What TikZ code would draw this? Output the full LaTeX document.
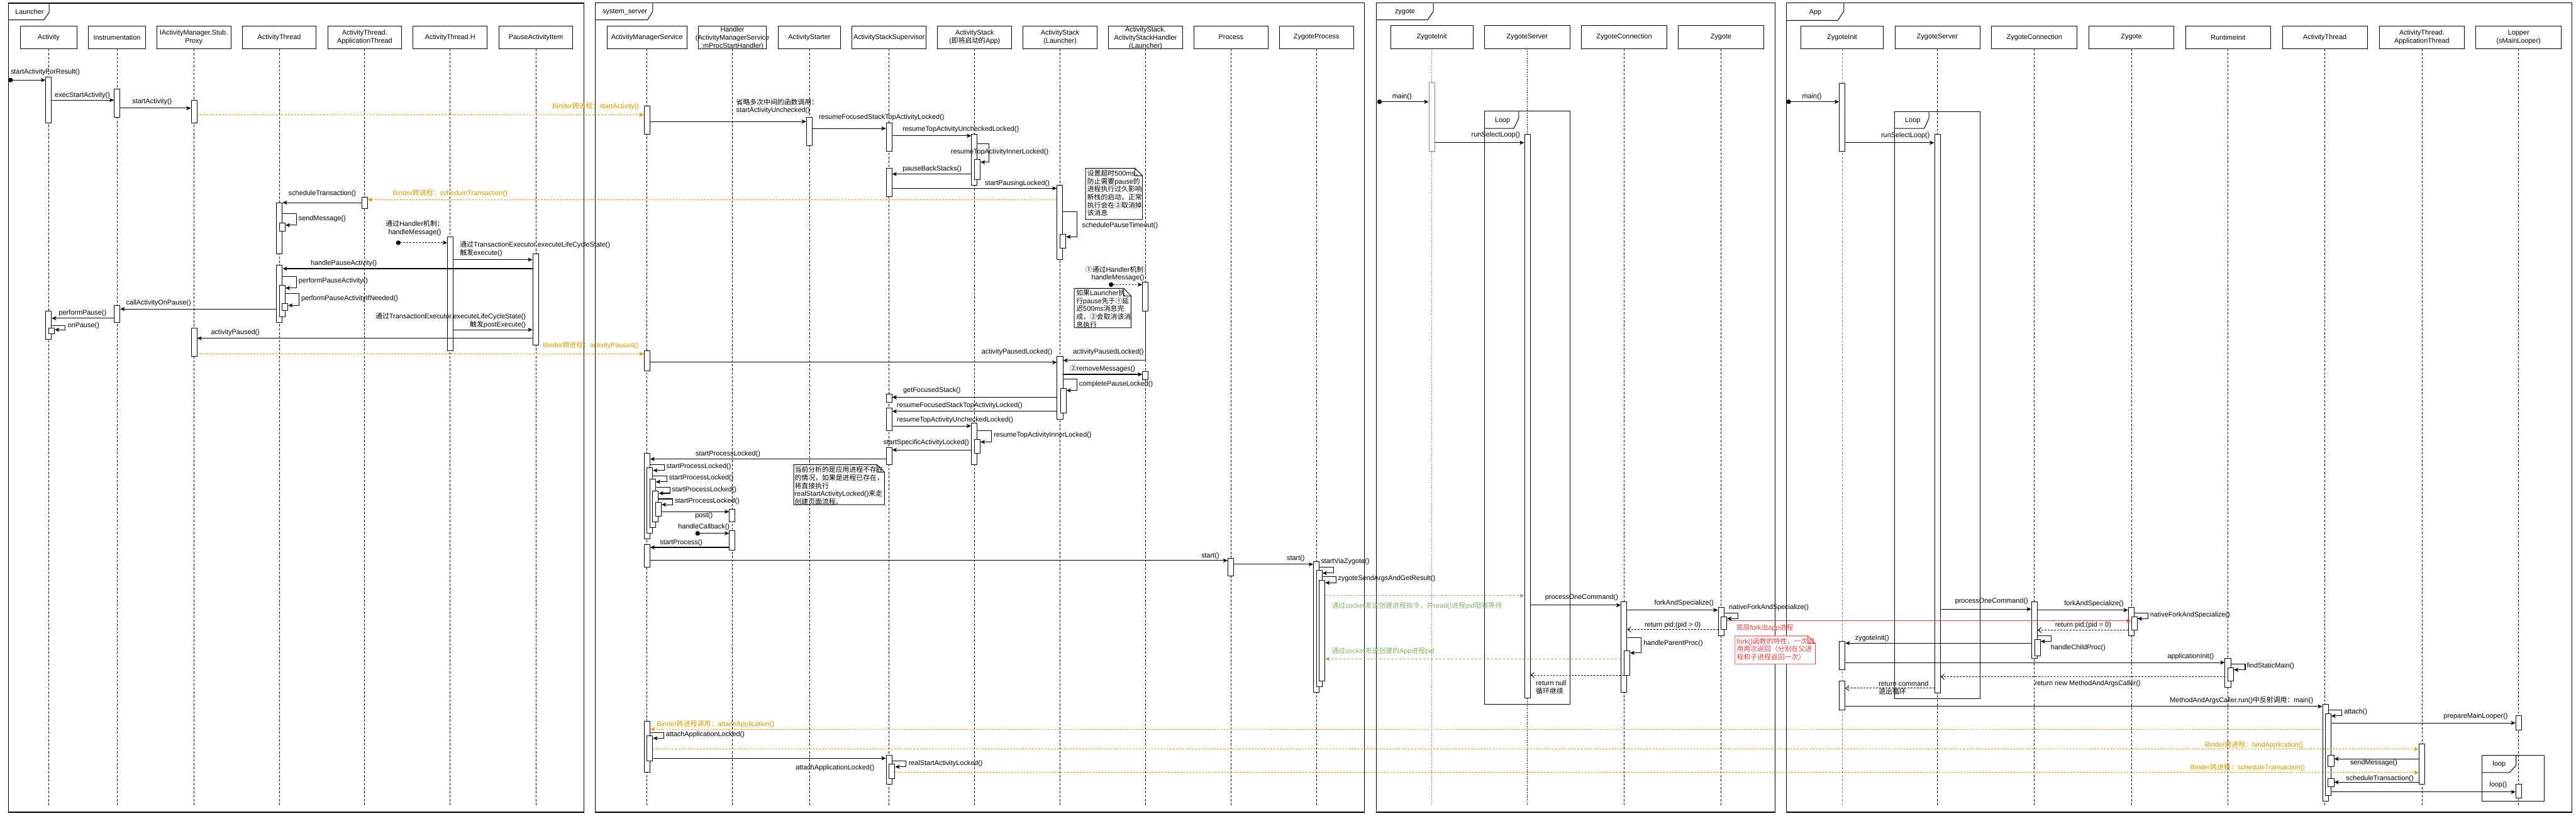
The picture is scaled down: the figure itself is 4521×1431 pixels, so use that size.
\documentclass[tikz,border=0pt]{standalone}
\usepackage{fontspec}
\setmainfont{Liberation Sans}
\newfontfamily\cjk{Noto Sans CJK SC}
\usetikzlibrary{arrows.meta,fit}
\definecolor{bOrange}{RGB}{215,155,0}
\definecolor{bGreen}{RGB}{130,179,102}
\definecolor{bRed}{RGB}{236,64,60}
\newcommand\zh[1]{{\cjk #1}}
\newcommand\mkact[5][]{\node[actb,#1,fit={(#3-5,#4) (#3+5,#5)}] (#2) {};}
\newcommand\notebox[5][black]{\draw[draw=#1,line width=1pt,fill=white] (#2,#3) -- (#4-13,#3) -- (#4,#3+13) -- (#4,#5) -- (#2,#5) -- cycle; \draw[draw=#1,line width=0.8pt] (#4-13,#3) -- (#4-13,#3+13) -- (#4,#3+13);}
\tikzset{
  frm/.style={draw=black,line width=1.3pt},
  tabl/.style={line width=1.1pt},
  hd/.style={draw,fill=white,line width=1pt,minimum height=40pt,inner sep=0pt,align=center},
  life/.style={line width=0.8pt,dash pattern=on 4pt off 3pt},
  lifeg/.style={gray,line width=1.6pt,dash pattern=on 2pt off 2pt},
  lifed/.style={line width=1.2pt,dash pattern=on 2pt off 2pt},
  lifeg2/.style={gray,line width=1pt,dash pattern=on 4pt off 3pt},
  actb/.style={draw,fill=white,line width=1pt,inner sep=0pt},
  msg/.style={line width=1.2pt,arrows={-Stealth[length=8pt,width=7pt,inset=2pt]}},
  ret/.style={line width=1pt,dash pattern=on 3pt off 2.5pt,arrows={-Straight Barb[length=6pt,width=9pt]}},
  found/.style={line width=1.2pt,arrows={Circle[length=8pt]-Stealth[length=8pt,width=7pt,inset=2pt]}},
  founddash/.style={found,dash pattern=on 3pt off 2.5pt},
  binder/.style={draw=bOrange,line width=1.2pt,dash pattern=on 3pt off 2.5pt,arrows={-Stealth[length=8pt,width=7pt,inset=2pt]}},
  sock/.style={draw=bGreen,line width=1pt,dash pattern=on 4pt off 3pt,arrows={-Stealth[length=8pt,width=7pt,inset=2pt]}},
  redmsg/.style={draw=bRed,line width=1pt,arrows={-Stealth[length=8pt,width=7pt,inset=2pt]}},
  lbl/.style={inner sep=0pt},
  orl/.style={lbl,text=bOrange},
  grl/.style={lbl,text=bGreen},
  rdl/.style={lbl,text=bRed},
}
\begin{document}
\begin{tikzpicture}[x=1pt,y=-1pt,font=\fontsize{12}{14}\selectfont]
\fill[white] (0,0) rectangle (4521,1431);
\useasboundingbox (0,0) rectangle (4521,1431);

% ===== frames
\draw[frm] (14.6,5.5) rectangle (1024.6,1425);
\draw[tabl] (14.6,35) -- (77,35) -- (86.2,21.7) -- (86.2,5.5);
\node[lbl] (fL) at (51.8,21) {Launcher};
\draw[frm] (1044.6,5) rectangle (2394.8,1425);
\draw[tabl] (1044.6,35) -- (1136.4,35) -- (1145.6,19.6) -- (1145.6,5);
\node[lbl] (fS) at (1096.7,21.5) {system\_server};
\draw[frm] (2415.6,5.4) rectangle (3115,1425);
\draw[tabl] (2415.6,34.8) -- (2505.7,34.8) -- (2515.5,20) -- (2515.5,5.4);
\node[lbl] (fZ) at (2465.8,21.5) {zygote};
\draw[frm] (3135.2,5) rectangle (4514,1425);
\draw[tabl] (3135.2,35.7) -- (3225.4,35.7) -- (3236,19.6) -- (3236,5);
\node[lbl] (fA) at (3186,21.5) {App};

% loop frames
\draw[frm,line width=1.1pt] (2605.3,195) rectangle (2755.3,1235.6);
\draw[tabl] (2605.3,225.4) -- (2656.6,225.4) -- (2665.5,207.6) -- (2665.5,195);
\node[lbl] (lpZ) at (2637,211.6) {Loop};
\draw[frm,line width=1.1pt] (3325.5,195.4) rectangle (3474.8,1225.3);
\draw[tabl] (3325.5,225.4) -- (3377,225.4) -- (3385.4,207) -- (3385.4,195.4);
\node[lbl] (lpA) at (3356.8,211.5) {Loop};
\draw[frm,line width=1.1pt] (4355.9,1325.3) rectangle (4465,1405.3);
\draw[tabl] (4355.9,1355.3) -- (4404.2,1355.3) -- (4415.8,1343) -- (4415.8,1325.3);
\node[lbl] (lpB) at (4386.3,1341) {loop};

% ===== headers
\node[hd,minimum width=100pt] (hA) at (85.3,65.4) {Activity};
\node[hd,minimum width=100pt] (hI) at (205.3,65.4) {Instrumentation};
\node[hd,minimum width=130pt] (hP) at (340.2,65.4) {IActivityManager.Stub.\\Proxy};
\node[hd,minimum width=130pt] (hAT) at (490.1,65.4) {ActivityThread};
\node[hd,minimum width=130pt] (hAPT) at (640,65.4) {ActivityThread.\\ApplicationThread};
\node[hd,minimum width=130pt] (hH) at (790,65.4) {ActivityThread.H};
\node[hd,minimum width=130pt] (hPAI) at (940.4,65.4) {PauseActivityItem};

\node[hd,minimum width=140pt] (sh1) at (1135.3,65.4) {ActivityManagerService};
\node[hd,minimum width=120pt] (sh2) at (1285.4,65.4) {};
\node[lbl,align=center] (sh2t) at (1285.4,66.8) {Handler\\(ActivityManagerService\\:mProcStartHandler)};
\node[hd,minimum width=110pt] (sh3) at (1420.4,65.4) {ActivityStarter};
\node[hd,minimum width=130pt] (sh4) at (1560.5,65.4) {ActivityStackSupervisor};
\node[hd,minimum width=130pt] (sh5) at (1710.6,65.4) {ActivityStack\\(\zh{即将启动的}App)};
\node[hd,minimum width=130pt] (sh6) at (1860.5,65.4) {ActivityStack\\(Launcher)};
\node[hd,minimum width=130pt] (sh7) at (2010.4,65.4) {};
\node[lbl,align=center] (sh7t) at (2010.4,66.8) {ActivityStack.\\ActivityStackHandler\\(Launcher)};
\node[hd,minimum width=130pt] (sh8) at (2160.4,65.4) {Process};
\node[hd,minimum width=130pt] (sh9) at (2310.4,65.4) {ZygoteProcess};

\node[hd,minimum width=145pt] (zh1) at (2512.9,65.2) {ZygoteInit};
\node[hd,minimum width=150pt] (zh2) at (2680.3,65.2) {ZygoteServer};
\node[hd,minimum width=150pt] (zh3) at (2850.4,65.2) {ZygoteConnection};
\node[hd,minimum width=150pt] (zh4) at (3020.4,65.2) {Zygote};

\node[hd,minimum width=144pt] (ph1) at (3233,65.4) {ZygoteInit};
\node[hd,minimum width=149pt] (ph2) at (3400.1,65.4) {ZygoteServer};
\node[hd,minimum width=150pt] (ph3) at (3570.4,65.4) {ZygoteConnection};
\node[hd,minimum width=149pt] (ph4) at (3740.7,65.4) {Zygote};
\node[hd,minimum width=149pt] (ph5) at (3910.4,65.4) {RuntimeInit};
\node[hd,minimum width=149pt] (ph6) at (4080.2,65.4) {ActivityThread};
\node[hd,minimum width=150pt] (ph7) at (4250.5,65.4) {ActivityThread.\\ApplicationThread};
\node[hd,minimum width=150pt] (ph8) at (4420.2,65.4) {Lopper\\(sMainLooper)};

% ===== lifelines
\foreach \n in {hA,hI,hP,hAT,hAPT,hH,hPAI} {\draw[life] (\n.south) -- (\n.south |- 0,1413);}
\foreach \n in {sh1,sh2,sh3,sh4,sh5,sh6,sh7,sh8,sh9} {\draw[life] (\n.south) -- (\n.south |- 0,1415);}
\draw[lifeg] (zh1.south) -- (zh1.south |- 0,1413);
\draw[lifed] (zh2.south) -- (zh2.south |- 0,1413);
\foreach \n in {zh3,zh4} {\draw[life] (\n.south) -- (\n.south |- 0,1413);}
\draw[lifeg2] (ph1.south) -- (ph1.south |- 0,1415);
\foreach \n in {ph2,ph3,ph4,ph5,ph6,ph7,ph8} {\draw[life] (\n.south) -- (\n.south |- 0,1415);}

% ===== activations: Launcher
\mkact{aA1}{85.2}{135.6}{215.5}
\mkact{aI1}{205.6}{155.8}{205.6}
\mkact{aP1}{340.5}{175.6}{215.5}
\mkact{aAPT1}{640.2}{345.6}{365.4}
\mkact{aAT1}{490.4}{355.5}{445.2}
\mkact{aAT1n}{495.4}{391}{405.3}
\mkact{aH1}{790.4}{415.6}{614.9}
\mkact{aPAI}{940}{445.6}{605}
\mkact{aAT2}{490.4}{465.4}{565.4}
\mkact{aAT2n}{495.4}{501}{555.5}
\mkact{aAT2nn}{500.2}{532}{544.9}
\mkact{aI2}{205.6}{535.8}{565.4}
\mkact{aA2}{85.2}{545.7}{595.1}
\mkact{aA2n}{90.5}{575.3}{585.2}
\mkact{aP2}{340.5}{575.3}{625}
% system_server
\mkact{sAMS1}{1135.5}{185.4}{235.4}
\mkact{sAS1}{1420.4}{205.4}{255.4}
\mkact{sASS1}{1560.3}{215.4}{265.4}
\mkact{sApp1}{1710.1}{235.4}{325.4}
\mkact{sApp1n}{1715.4}{280}{315.4}
\mkact{sASS2}{1560.3}{295.4}{345.4}
\mkact{sL1}{1860.1}{325.4}{455.4}
\mkact{sL1n}{1865.5}{411}{435}
\mkact{sH1}{2010.2}{495}{545.7}
\mkact{sAMS2}{1135.5}{615.3}{650.3}
\mkact{sL2}{1860.3}{625.7}{735.3}
\mkact{sL2n}{1866}{681}{725}
\mkact{sH2}{2010.3}{652}{665.7}
\mkact{sASS3}{1560.3}{692}{705.3}
\mkact{sASS4}{1560.3}{715.3}{755.3}
\mkact{sApp2}{1709.8}{742}{815.3}
\mkact{sApp2n}{1715.2}{771}{795.3}
\mkact{sASS5}{1560.3}{785.3}{815.3}
\mkact{sAMS3}{1135.5}{795.3}{945.3}
\mkact{sAMS3a}{1140.5}{821}{935.3}
\mkact{sAMS3b}{1145.5}{841}{925.3}
\mkact{sAMS3c}{1150.5}{861}{915.3}
\mkact{sAMS3d}{1155.5}{881}{905.3}
\mkact{sHd1}{1285.2}{893}{915.3}
\mkact{sHd2}{1285.2}{931}{965.3}
\mkact{sAMS4}{1135.5}{955.3}{995.3}
\mkact{sPr}{2160.1}{979}{1010.3}
\mkact{sZP1}{2310.2}{985.3}{1215}
\mkact{sZP2}{2315.3}{1001}{1205}
\mkact{sZP3}{2320.3}{1018}{1195}
\mkact{sAMS5}{1135.5}{1265.3}{1355.3}
\mkact{sAMS5n}{1140.5}{1291}{1335.3}
\mkact{sASS6}{1560.3}{1325.3}{1375.3}
\mkact{sASS6n}{1565.5}{1341}{1365.3}
% zygote
\mkact[draw=gray,line width=1.4pt]{zZI}{2512.9}{145.5}{265.2}
\mkact{zZS}{2680.5}{235.3}{1225}
\mkact{zZC}{2850.2}{1055.5}{1215}
\mkact{zZCn}{2855.3}{1142}{1184.8}
\mkact{zZy}{3020.4}{1065.5}{1114.9}
\mkact{zZyn}{3025.4}{1082}{1104.8}
% App
\mkact{pZI1}{3233}{145.7}{265.4}
\mkact{pZS}{3400.1}{235.4}{1215.3}
\mkact{pZC}{3570.4}{1055.3}{1155.3}
\mkact{pZCn}{3575.8}{1122}{1150.3}
\mkact{pZy}{3740.2}{1065.3}{1115.3}
\mkact{pZyn}{3745.6}{1082}{1105.3}
\mkact{pZI2}{3233}{1125.3}{1175.3}
\mkact{pRI}{3910}{1155.3}{1205.3}
\mkact{pRIn}{3915}{1172}{1195.3}
\mkact{pZI3}{3233}{1195.3}{1245.3}
\mkact{pAT}{4081.1}{1235.3}{1405.3}
\mkact{pATn}{4085.6}{1252}{1395.3}
\mkact{pLp1}{4420.3}{1255.3}{1280.3}
\mkact{pAPT}{4250}{1305.3}{1375.3}
\mkact{pATn2}{4091}{1325.3}{1345.3}
\mkact{pATn3}{4091}{1365.3}{1380.3}
\mkact{pLp2}{4420.3}{1375.3}{1400.3}

% ===== notes
\notebox{1905.2}{295.4}{2005}{385}
\node[lbl,anchor=west,align=left] (n1) at (1908,338.8) {\zh{设置超时}500ms\zh{，}\\\zh{防止需要}pause\zh{的}\\\zh{进程执行过久影响}\\\zh{新栈的启动，正常}\\\zh{执行会在②取消掉}\\\zh{该消息}};
\notebox{1885.3}{506}{1985}{575}
\node[lbl,anchor=west,align=left] (n2) at (1888.7,541.8) {\zh{如果}Launcher\zh{执}\\\zh{行}pause\zh{先于①延}\\\zh{迟}500ms\zh{消息完}\\\zh{成，②会取消该消}\\\zh{息执行}};
\notebox{1393}{815.3}{1552.3}{885.3}
\node[lbl,anchor=west,align=left] (n3) at (1394.5,852) {\zh{当前分析的是应用进程不存在}\\\zh{的情况，如果是进程已存在，}\\\zh{将直接执行}\\realStartActivityLocked()\zh{来走}\\\zh{创建页面流程。}};
\notebox[bRed]{3045}{1115.7}{3186}{1165.3}
\node[rdl,anchor=west,align=left] (n4) at (3048,1138.8) {fork()\zh{函数的特性，一次调}\\\zh{用两次返回（分别在父进}\\\zh{程和子进程返回一次）}};

% ===== Launcher messages
\coordinate (sL0) at (14.6,140.4);
\draw[found] (sL0) -- (aA1.west |- sL0);
\node[lbl,anchor=west] (t1) at (18.6,127) {startActivityForResult()};
\draw[msg] (aA1.east |- 0,175.6) -- (aI1.west |- 0,175.6);
\node[lbl] (t2) at (144.6,166.9) {execStartActivity()};
\draw[msg] (aI1.east |- 0,189.8) -- (aP1.west |- 0,189.8);
\node[lbl] (t3) at (267,178) {startActivity()};
\draw[binder] (aP1.east |- 0,201.3) -- (sAMS1.west |- 0,201.3);
\node[orl,anchor=east] (t4) at (1121.7,186.8) {Binder\zh{跨进程：}startActivity()};
\draw[binder] (sL1.west |- 0,350.3) -- (aAPT1.east |- 0,350.3);
\node[orl] (t5) at (790,338.9) {Binder\zh{跨进程：}scheduleTransaction()};
\draw[msg] (aAPT1.west |- 0,355.5) -- (aAT1.east |- 0,355.5);
\node[lbl] (t6) at (565.6,340) {scheduleTransaction()};
\draw[msg] (aAT1.east |- 0,375.2) -- (520,375.2) |- (aAT1n.east |- 0,395);
\node[lbl,anchor=west] (t7) at (524,384.3) {sendMessage()};
\coordinate (sL1c) at (695,425.9);
\draw[founddash] (sL1c) -- (aH1.west |- sL1c);
\node[lbl,align=center] (t8) at (728,400.5) {\zh{通过}Handler\zh{机制：}\\handleMessage()};
\draw[msg] (aH1.east |- 0,455.5) -- (aPAI.west |- 0,455.5);
\node[lbl,anchor=west,align=left] (t9) at (807,436.7) {\zh{通过}TransactionExecutor.executeLifeCycleState()\\\zh{触发}execute()};
\draw[msg] (aPAI.west |- 0,471.3) -- (aAT2.east |- 0,471.3);
\node[lbl] (t10) at (603.4,462.6) {handlePauseActivity()};
\draw[msg] (aAT2.east |- 0,485.6) -- (520,485.6) |- (aAT2n.east |- 0,505.3);
\node[lbl,anchor=west] (t11) at (524,493.5) {performPauseActivity()};
\draw[msg] (aAT2n.east |- 0,515.2) -- (525,515.2) |- (aAT2nn.east |- 0,535.8);
\node[lbl,anchor=west] (t12) at (528.5,524) {performPauseActivityIfNeeded()};
\draw[msg] (aAT2.west |- 0,542.1) -- (aI2.east |- 0,542.1);
\node[lbl] (t13) at (278.5,531.8) {callActivityOnPause()};
\draw[msg] (aI2.west |- 0,558.3) -- (aA2.east |- 0,558.3);
\node[lbl] (t14) at (145,548.8) {performPause()};
\draw[msg] (aA2.east |- 0,571) -- (114.7,571) |- (aA2n.east |- 0,578.5);
\node[lbl,anchor=west] (t15) at (118.7,571) {onPause()};
\draw[msg] (aH1.east |- 0,578.5) -- (aPAI.west |- 0,578.5);
\node[lbl,anchor=east,align=right] (t16) at (923,562.1) {\zh{通过}TransactionExecutor.executeLifeCycleState()\\\zh{触发}postExecute()};
\draw[msg] (aPAI.west |- 0,593.5) -- (aP2.east |- 0,593.5);
\node[lbl] (t17) at (413,584) {activityPaused()};
\draw[binder] (aP2.east |- 0,620.7) -- (sAMS2.west |- 0,620.7);
\node[orl,anchor=east] (t18) at (1121,606.5) {Binder\zh{跨进程：}activityPaused()};

% ===== system_server messages
\draw[msg] (sAMS1.east |- 0,213.2) -- (sAS1.west |- 0,213.2);
\node[lbl,anchor=west,align=left] (u1) at (1292,186.6) {\zh{省略多次中间的函数调用：}\\startActivityUnchecked()};
\draw[msg] (sAS1.east |- 0,225.4) -- (sASS1.west |- 0,225.4);
\node[lbl,anchor=west] (u2) at (1437,206) {resumeFocusedStackTopActivityLocked()};
\draw[msg] (sASS1.east |- 0,238.2) -- (sApp1.west |- 0,238.2);
\node[lbl,anchor=west] (u3) at (1584,227) {resumeTopActivityUncheckedLocked()};
\draw[msg] (sApp1.east |- 0,251.8) -- (1735.6,251.8) |- (sApp1n.east |- 0,284.6);
\node[lbl] (u4) at (1754.5,266.8) {resumeTopActivityInnerLocked()};
\draw[msg] (sApp1.west |- 0,305.4) -- (sASS2.east |- 0,305.4);
\node[lbl,anchor=west] (u5) at (1584,296.8) {pauseBackStacks()};
\draw[msg] (sASS2.east |- 0,330.4) -- (sL1.west |- 0,330.4);
\node[lbl,anchor=east] (u6) at (1842.3,321.8) {startPausingLocked()};
\draw[msg] (sL1.east |- 0,371.4) -- (1890.5,371.4) |- (sL1n.east |- 0,415.4);
\node[lbl,anchor=west] (u7) at (1899,395.7) {schedulePauseTimeout()};
\coordinate (sS1c) at (1946,499.3);
\draw[founddash] (sS1c) -- (sH1.west |- sS1c);
\node[lbl,align=center] (u8) at (1962,480) {\zh{①通过}Handler\zh{机制：}\\handleMessage()};
\draw[msg] (sH1.south) |- (sL2.east |- 0,632.3);
\node[lbl] (u9) at (1945.5,617.3) {activityPausedLocked()};
\draw[msg] (sAMS2.east |- 0,635.7) -- (sL2.west |- 0,635.7);
\node[lbl,anchor=east] (u10) at (1847,617.3) {activityPausedLocked()};
\draw[msg] (sL2.east |- 0,656.7) -- (sH2.west |- 0,656.7);
\node[lbl] (u11) at (1935,647.3) {\zh{②}removeMessages()};
\draw[msg] (sL2.east |- 0,665) -- (1890.2,665) |- (sL2n.east |- 0,685);
\node[lbl,anchor=west] (u12) at (1893.8,674) {completePauseLocked()};
\draw[msg] (sL2.west |- 0,697) -- (sASS3.east |- 0,697);
\node[lbl,anchor=west] (u13) at (1585,685) {getFocusedStack()};
\draw[msg] (sL2.west |- 0,721.7) -- (sASS4.east |- 0,721.7);
\node[lbl,anchor=west] (u14) at (1574,712) {resumeFocusedStackTopActivityLocked()};
\draw[msg] (sASS4.east |- 0,747.3) -- (sApp2.west |- 0,747.3);
\node[lbl,anchor=west] (u15) at (1574,737.3) {resumeTopActivityUncheckedLocked()};
\draw[msg] (sApp2.east |- 0,755.3) -- (1739.8,755.3) |- (sApp2n.east |- 0,775.3);
\node[lbl,anchor=west] (u16) at (1744,764) {resumeTopActivityInnerLocked()};
\draw[msg] (sApp2.west |- 0,789.3) -- (sASS5.east |- 0,789.3);
\node[lbl] (u17) at (1625.7,777) {startSpecificActivityLocked()};
\draw[msg] (sASS5.west |- 0,805.3) -- (sAMS3.east |- 0,805.3);
\node[lbl] (u18) at (1277.7,796.7) {startProcessLocked()};
\draw[msg] (sAMS3.east |- 0,815.3) -- (1165.9,815.3) |- (sAMS3a.east |- 0,825.3);
\node[lbl,anchor=west] (u19) at (1169.4,818.7) {startProcessLocked()};
\draw[msg] (sAMS3a.east |- 0,835.3) -- (1170.3,835.3) |- (sAMS3b.east |- 0,845.3);
\node[lbl,anchor=west] (u20) at (1173.8,839) {startProcessLocked()};
\draw[msg] (sAMS3b.east |- 0,855.3) -- (1175.6,855.3) |- (sAMS3c.east |- 0,865.3);
\node[lbl,anchor=west] (u21) at (1179,859) {startProcessLocked()};
\draw[msg] (sAMS3c.east |- 0,875.3) -- (1180.8,875.3) |- (sAMS3d.east |- 0,885.3);
\node[lbl,anchor=west] (u22) at (1184.4,879) {startProcessLocked()};
\draw[msg] (sAMS3d.east |- 0,897.7) -- (sHd1.west |- 0,897.7);
\node[lbl,anchor=north] (u23) at (1235.4,899) {post()};
\coordinate (sS2c) at (1220.4,935.7);
\draw[found] (sS2c) -- (sHd2.west |- sS2c);
\node[lbl] (u24) at (1235.4,925) {handleCallback()};
\draw[msg] (sHd2.west |- 0,960.3) -- (sAMS4.east |- 0,960.3);
\node[lbl,anchor=west] (u25) at (1158,952.3) {startProcess()};
\draw[msg] (sAMS4.east |- 0,983.3) -- (sPr.west |- 0,983.3);
\node[lbl,anchor=east] (u26) at (2140,975) {start()};
\draw[msg] (sPr.east |- 0,990) -- (sZP1.west |- 0,990);
\node[lbl,anchor=east] (u27) at (2290,980) {start()};
\draw[msg] (sZP1.east |- 0,995.3) -- (2340,995.3) |- (sZP2.east |- 0,1005.3);
\node[lbl,anchor=west] (u28) at (2318,985) {startViaZygote()};
\draw[msg] (sZP2.east |- 0,1012) -- (2345,1012) |- (sZP3.east |- 0,1022.3);
\node[lbl,anchor=west] (u29) at (2348,1015.5) {zygoteSendArgsAndGetResult()};
\draw[sock] (sZP3.east |- 0,1045) -- (zZS.west |- 0,1045);
\node[grl,anchor=west] (u30) at (2337,1063.3) {\zh{通过}socket\zh{发送创建进程指令，并}read()\zh{进程}pid\zh{阻塞等待}};
\draw[sock] (zZC.west |- 0,1156) -- (sZP3.east |- 0,1156);
\node[grl,anchor=west] (u31) at (2337,1142.7) {\zh{通过}socket\zh{发送创建的}App\zh{进程}pid};
\draw[binder] (pAT.west |- 0,1279.3) -- (sAMS5.east |- 0,1279.3);
\node[orl,anchor=west] (u32) at (1152.7,1270.7) {Binder\zh{跨进程调用：}attachApplication()};
\draw[msg] (sAMS5.east |- 0,1285.3) -- (1165,1285.3) |- (sAMS5n.east |- 0,1295.3);
\node[lbl,anchor=west] (u33) at (1168.5,1289.3) {attachApplicationLocked()};
\draw[binder] (sAMS5n.east |- 0,1314.3) -- (pAPT.west |- 0,1314.3);
\node[orl] (u34) at (3956,1306.7) {Binder\zh{跨进程：}bindApplication()};
\draw[msg] (sAMS5n.east |- 0,1330.3) -- (sASS6.west |- 0,1330.3);
\node[lbl,anchor=east] (u35) at (1534.7,1347.7) {attachApplicationLocked()};
\draw[msg] (sASS6.east |- 0,1335.3) -- (1590,1335.3) |- (sASS6n.east |- 0,1345.3);
\node[lbl,anchor=west] (u36) at (1594.5,1339.3) {realStartActivityLocked()};
\draw[binder] (sASS6n.east |- 0,1355.3) -- (pAPT.west |- 0,1355.3);
\node[orl] (u37) at (3944.8,1347) {Binder\zh{跨进程：}scheduleTransaction()};

% ===== zygote messages
\coordinate (zc0) at (2417,178.6);
\draw[found] (zc0) -- (zZI.west |- zc0);
\node[lbl] (v1) at (2460.6,170) {main()};
\draw[msg] (zZI.east |- 0,250.4) -- (zZS.west |- 0,250.4);
\node[lbl,anchor=east] (v2) at (2668,237.5) {runSelectLoop()};
\draw[msg] (zZS.east |- 0,1061.7) -- (zZC.west |- 0,1061.7);
\node[lbl] (v3) at (2775.8,1047.8) {processOneCommand()};
\draw[msg] (zZC.east |- 0,1070.3) -- (zZy.west |- 0,1070.3);
\node[lbl] (v4) at (2955.7,1058.4) {forkAndSpecialize()};
\draw[msg] (zZy.east |- 0,1075.6) -- (3050.4,1075.6) |- (zZyn.east |- 0,1085.2);
\node[lbl,anchor=west] (v5) at (3034,1065.5) {nativeForkAndSpecialize()};
\draw[redmsg] (zZyn.east |- 0,1089.3) -- (pZyn.west |- 0,1089.3);
\node[rdl,anchor=west] (v6) at (3047,1101.7) {\zh{底层}fork\zh{出}app\zh{进程}};
\draw[ret] (zZy.west |- 0,1104.3) -- (zZC.east |- 0,1104.3);
\node[lbl] (v7) at (2935.6,1096.7) {return pid;(pid > 0)};
\draw[msg] (zZC.east |- 0,1118.2) -- (2880.3,1118.2) |- (zZCn.east |- 0,1145.5);
\node[lbl,anchor=west] (v8) at (2884.3,1129.2) {handleParentProc()};
\draw[ret] (zZCn.west |- 0,1184.3) -- (zZS.east |- 0,1184.3);
\node[lbl,anchor=west,align=left] (v9) at (2695.4,1205.6) {return null\\\zh{循环继续}};

% ===== App messages
\coordinate (pc0) at (3135.2,178.6);
\draw[found] (pc0) -- (pZI1.west |- pc0);
\node[lbl] (w1) at (3180,170) {main()};
\draw[msg] (pZI1.east |- 0,250.4) -- (pZS.west |- 0,250.4);
\node[lbl,anchor=east] (w2) at (3387,238.6) {runSelectLoop()};
\draw[msg] (pZS.east |- 0,1068.7) -- (pZC.west |- 0,1068.7);
\node[lbl] (w3) at (3495.3,1055) {processOneCommand()};
\draw[msg] (pZC.east |- 0,1070.3) -- (pZy.west |- 0,1070.3);
\node[lbl] (w4) at (3675,1059) {forkAndSpecialize()};
\draw[msg] (pZy.east |- 0,1075.3) -- (3769.7,1075.3) |- (pZyn.east |- 0,1085.3);
\node[lbl,anchor=west] (w5) at (3773.3,1079) {nativeForkAndSpecialize()};
\draw[ret] (pZy.west |- 0,1105.3) -- (pZC.east |- 0,1105.3);
\node[lbl] (w6) at (3656,1097.3) {return pid;(pid = 0)};
\draw[msg] (pZC.east |- 0,1115.3) -- (3599.9,1115.3) |- (pZCn.east |- 0,1125.3);
\node[lbl,anchor=west] (w7) at (3599,1136) {handleChildProc()};
\draw[msg] (pZC.west |- 0,1128.3) -- (pZI2.east |- 0,1128.3);
\node[lbl,anchor=west] (w8) at (3255.8,1120) {zygoteInit()};
\draw[msg] (pZI2.east |- 0,1162.3) -- (pRI.west |- 0,1162.3);
\node[lbl] (w9) at (3844.8,1152.3) {applicationInit()};
\draw[msg] (pRI.east |- 0,1165.3) -- (3940.4,1165.3) |- (pRIn.east |- 0,1175);
\node[lbl,anchor=west] (w10) at (3943,1168.3) {findStaticMain()};
\draw[ret] (pRI.west |- 0,1187.3) -- (pZS.east |- 0,1187.3);
\node[lbl,anchor=west] (w11) at (3571.3,1199.3) {return new MethodAndArgsCaller()};
\draw[ret] (pZS.west |- 0,1207.3) -- (pZI3.east |- 0,1207.3);
\node[lbl,anchor=west,align=left] (w12) at (3297,1206.7) {return command\\\zh{退出循环}};
\draw[msg] (pZI3.east |- 0,1239.3) -- (pAT.west |- 0,1239.3);
\node[lbl,anchor=east] (w13) at (4060,1228.3) {MethodAndArgsCaller.run()\zh{中反射调用：}main()};
\draw[msg] (pAT.east |- 0,1245.7) -- (4110.2,1245.7) |- (pATn.east |- 0,1256);
\node[lbl,anchor=west] (w14) at (4113.8,1249.3) {attach()};
\draw[msg] (pATn.east |- 0,1268.3) -- (pLp1.west |- 0,1268.3);
\node[lbl,anchor=east] (w15) at (4401.5,1257.3) {prepareMainLooper()};
\draw[msg] (pAPT.west |- 0,1331.3) -- (pATn2.east |- 0,1331.3);
\node[lbl,anchor=west] (w16) at (4124.5,1339) {sendMessage()};
\draw[msg] (pAPT.west |- 0,1372.3) -- (pATn3.east |- 0,1372.3);
\node[lbl,anchor=west] (w17) at (4117.3,1366) {scheduleTransaction()};
\draw[msg] (pATn.east |- 0,1389.3) -- (pLp2.west |- 0,1389.3);
\node[lbl] (w18) at (4384.5,1377) {loop()};
\end{tikzpicture}
\end{document}
